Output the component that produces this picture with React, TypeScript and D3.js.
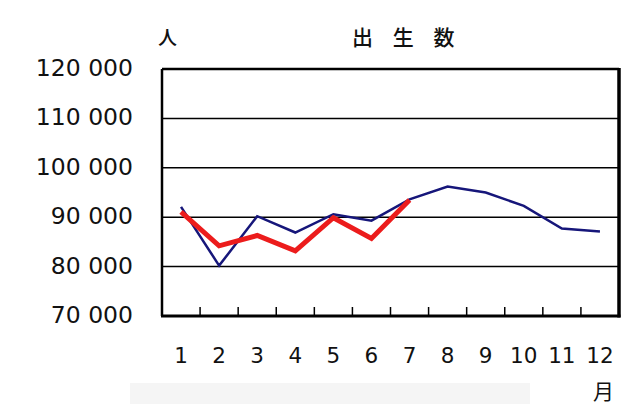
import React from "react";
import * as d3 from "d3";

const months = ["1", "2", "3", "4", "5", "6", "7", "8", "9", "10", "11", "12"];
const prevYear = [92100, 80200, 90200, 86900, 90600, 89300, 93600, 96200, 95000, 92300, 87700, 87100];
const thisYear = [91100, 84200, 86300, 83200, 89900, 85700, 93500];
const yTicks = [70000, 80000, 90000, 100000, 110000, 120000];
const title = "出 生 数";
const yUnit = "人";
const xUnit = "月";

const W = 640;
const H = 404;
const left = 162;
const right = 619;
const top = 69;
const bottom = 316;

export default function App() {
  const x = d3.scaleBand<string>().domain(months).range([left, right]).padding(0);
  const y = d3.scaleLinear().domain([70000, 120000]).range([bottom, top]);
  const fmt = (v: number) => d3.format(",")(v).replace(/,/g, " ");
  const cx = (i: number) => (x(months[i]) as number) + x.bandwidth() / 2;
  const line = d3
    .line<number>()
    .x((_, i) => cx(i))
    .y((d) => y(d));

  return (
    <svg
      width={W}
      height={H}
      style={{ position: "absolute", left: 0, top: 0, background: "#fff" }}
      fontFamily="'DejaVu Sans', Verdana, sans-serif"
    >
      <rect x={0} y={0} width={W} height={H} fill="#fff" />
      <rect x={130} y={383} width={400} height={21} fill="#f5f5f5" />
      {/* gridlines */}
      {yTicks.slice(1, -1).map((t) => (
        <line key={t} x1={left} x2={right} y1={y(t)} y2={y(t)} stroke="#000" strokeWidth={1.5} />
      ))}
      {/* x ticks at band boundaries */}
      {months.slice(1).map((m) => (
        <line
          key={m}
          x1={x(m) as number}
          x2={x(m) as number}
          y1={bottom}
          y2={bottom - 9}
          stroke="#000"
          strokeWidth={1.5}
        />
      ))}
      {/* frame */}
      <line x1={left} x2={right} y1={top} y2={top} stroke="#000" strokeWidth={2.5} />
      <line x1={left} x2={left} y1={top} y2={bottom} stroke="#000" strokeWidth={2.5} />
      <line x1={left - 1} x2={right + 1.5} y1={bottom} y2={bottom} stroke="#000" strokeWidth={3} />
      <line x1={right} x2={right} y1={top - 1} y2={bottom + 1.5} stroke="#000" strokeWidth={3.5} />
      {/* series */}
      <path d={line(prevYear) || ""} fill="none" stroke="#16167a" strokeWidth={2.5} strokeLinejoin="miter" />
      <path d={line(thisYear) || ""} fill="none" stroke="#ec1c1c" strokeWidth={5} strokeLinejoin="miter" />
      {/* y labels */}
      {yTicks.map((t) => (
        <text key={t} x={133} y={y(t) + 7} textAnchor="end" fontSize={23.5} fill="#111">
          {fmt(t)}
        </text>
      ))}
      {/* x labels */}
      {months.map((m, i) => (
        <text key={m} x={cx(i)} y={363} textAnchor="middle" fontSize={21.5} fill="#111">
          {m}
        </text>
      ))}
      <text
        x={352}
        y={45}
        fontSize={21}
        fontWeight={500}
        letterSpacing={7.5}
        fontFamily="'Noto Sans CJK JP', sans-serif"
        fill="#111"
      >
        {title}
      </text>
      <text x={158} y={45} fontSize={19} fontWeight={500} fontFamily="'Noto Sans CJK JP', sans-serif" fill="#111">
        {yUnit}
      </text>
      <text x={593} y={399} fontSize={21} fontFamily="'Noto Sans CJK JP', sans-serif" fill="#111">
        {xUnit}
      </text>
    </svg>
  );
}
